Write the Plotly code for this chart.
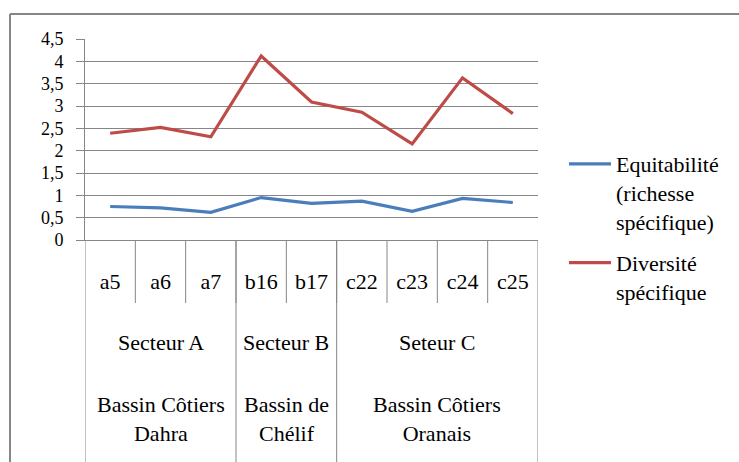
import plotly.graph_objects as go

# Stations, sectors and basins
stations = ["a5", "a6", "a7", "b16", "b17", "c22", "c23", "c24", "c25"]
sectors = ["Secteur A", "Secteur B", "Seteur C"]
sector_sizes = [3, 2, 4]
basins = ["Bassin Côtiers<br>Dahra", "Bassin de<br>Chélif", "Bassin Côtiers<br>Oranais"]

# Indices per station
equitabilite = [0.75, 0.72, 0.62, 0.95, 0.82, 0.87, 0.64, 0.93, 0.84]
diversite = [2.39, 2.52, 2.31, 4.12, 3.09, 2.86, 2.15, 3.63, 2.83]

y_ticks = [0, 0.5, 1, 1.5, 2, 2.5, 3, 3.5, 4, 4.5]

W, H = 739, 462
L, R, T, B = 85, 201, 39, 222
PW, PH = W - L - R, H - T - B

SERIF = "Liberation Serif"
FS = 22
GRID = "#868686"


def px_x(x):
    return (x - L) / PW


def px_y(y):
    return (H - B - y) / PH


def font(size=FS):
    return dict(family=SERIF, size=size, color="black")


fig = go.Figure()
fig.add_trace(go.Scatter(
    x=stations, y=equitabilite, mode="lines",
    name="Equitabilité<br>(richesse<br>spécifique)", legendgroup="e",
    line=dict(color="#4A7EBB", width=3.2),
))
fig.add_trace(go.Scatter(
    x=stations, y=diversite, mode="lines",
    name="Diversité<br>spécifique", legendgroup="d",
    line=dict(color="#BE4B48", width=3.2),
))

shapes = []
# short separators between stations
for i in range(len(stations) - 1):
    shapes.append(dict(type="line", xref="x", yref="paper",
                       x0=i + 0.5, x1=i + 0.5, y0=0, y1=px_y(303),
                       line=dict(color=GRID, width=1)))
# long separators between sectors (and outer edges)
edges = [-0.5]
acc = -0.5
for n in sector_sizes:
    acc += n
    edges.append(acc)
for e in edges:
    shapes.append(dict(type="line", xref="x", yref="paper",
                       x0=e, x1=e, y0=0, y1=px_y(H + 5),
                       line=dict(color=GRID, width=1)))
# chart area frame
shapes.append(dict(type="line", xref="paper", yref="paper",
                   x0=px_x(10), x1=px_x(W + 5), y0=px_y(14), y1=px_y(14),
                   line=dict(color=GRID, width=2)))
shapes.append(dict(type="line", xref="paper", yref="paper",
                   x0=px_x(10), x1=px_x(10), y0=px_y(14), y1=px_y(H + 5),
                   line=dict(color=GRID, width=2)))

annotations = []
start = -0.5
for name, basin, n in zip(sectors, basins, sector_sizes):
    centre = start + n / 2
    annotations.append(dict(text=name, xref="x", yref="paper", x=centre,
                            y=px_y(342), showarrow=False,
                            xanchor="center", yanchor="middle", font=font()))
    annotations.append(dict(text=basin, xref="x", yref="paper", x=centre,
                            y=px_y(419), showarrow=False,
                            xanchor="center", yanchor="middle", font=font()))
    start += n

fig.update_layout(
    template="none",
    width=W, height=H,
    margin=dict(l=L, r=R, t=T, b=B),
    paper_bgcolor="white", plot_bgcolor="white",
    separators=", ",
    font=font(),
    showlegend=True,
    legend=dict(x=px_x(564), y=px_y(143), xanchor="left", yanchor="top",
                valign="top", font=font(),
                itemwidth=42, tracegroupgap=10, bgcolor="rgba(0,0,0,0)"),
    shapes=shapes,
    annotations=annotations,
)
fig.update_xaxes(
    type="category", categoryorder="array", categoryarray=stations,
    range=[-0.5, len(stations) - 0.5],
    showgrid=False, zeroline=False,
    showline=True, linecolor=GRID, linewidth=1,
    ticks="", ticklabelstandoff=22,
    tickfont=font(),
)
fig.update_yaxes(
    range=[0, 4.5], tickvals=y_ticks,
    showgrid=True, gridcolor=GRID, gridwidth=1,
    zeroline=False, showline=True, linecolor=GRID, linewidth=1,
    ticks="outside", ticklen=8, tickcolor=GRID, ticklabelstandoff=9,
    tickfont=font(18),
)

fig.write_html("out.html")
